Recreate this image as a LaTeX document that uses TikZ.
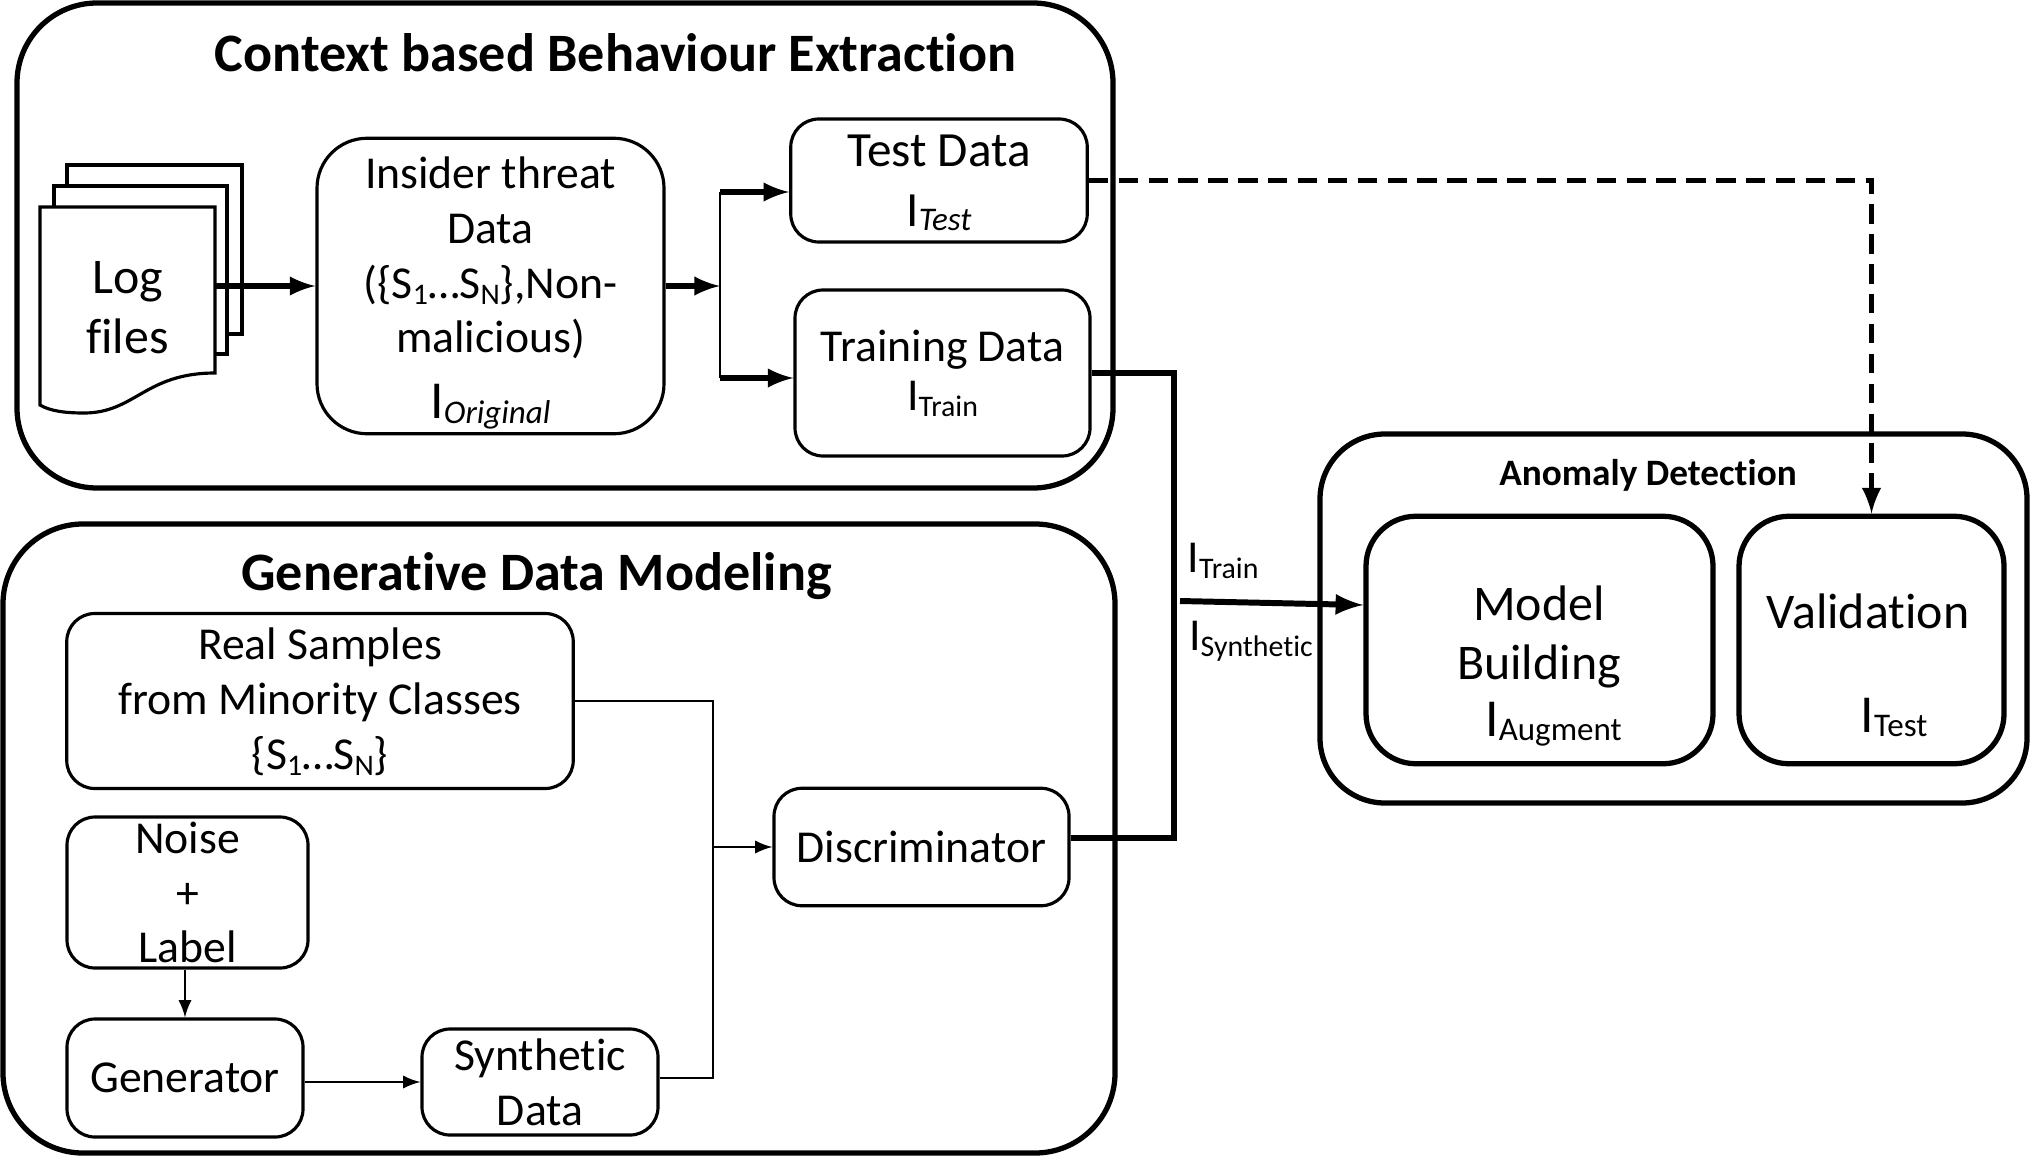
\documentclass[tikz,border=0pt]{standalone}
\usepackage{fontspec}
\setmainfont[Ligatures=NoCommon]{Carlito}
\newcommand{\lowtag}[1]{\raisebox{-1.8pt}[\height][0pt]{\fontsize{8.5}{10}\selectfont #1}}
\newcommand{\lowtagbig}[1]{\raisebox{-1.2pt}[\height][0pt]{\fontsize{9.4}{11}\selectfont #1}}
\newcommand{\bigI}{{\fontsize{15.2}{15.6}\selectfont I}}
\newcommand{\dropline}[1]{\raisebox{-3.2pt}[\height][2.2pt]{#1}}
\begin{document}
\begin{tikzpicture}[>=latex,
    every node/.style={font=\fontsize{13}{15.6}\selectfont, align=center, inner sep=0pt},
    group/.style={draw, line width=1.5pt, rounded corners=0.8cm},
    stage/.style={draw, line width=0.9pt, rounded corners=0.28cm},
    stagebig/.style={draw, line width=1.5pt, rounded corners=0.5cm},
    sheet/.style={draw, line width=0.9pt, fill=white},
    title/.style={font=\fontsize{15.4}{18}\selectfont\bfseries},
    bigtext/.style={font=\fontsize{14.2}{16.9}\selectfont},
    tagtext/.style={font=\fontsize{15.2}{18}\selectfont},
    thin line/.style={line width=0.7pt},
    bold line/.style={line width=1.5pt}]
    \useasboundingbox (0,0) rectangle (20.3,11.65);
    % groups
    \node[group, minimum width=10.96cm, minimum height=4.85cm] (context) at (5.65,9.195) {};
    \node[group, minimum width=11.12cm, minimum height=6.29cm] (generative) at (5.59,3.265) {};
    \node[group, rounded corners=0.65cm, minimum width=7.07cm, minimum height=3.69cm] (anomaly) at (16.735,5.465) {};
    \node[title] (contexttitle) at (6.156,11.12) {Context based Behaviour Extraction};
    \node[title] (generativetitle) at (5.366,5.89) {Generative Data Modeling};
    \node[font=\fontsize{10.6}{13}\selectfont\bfseries] (anomalytitle) at (16.48,6.90) {Anomaly Detection};
    % log files
    \node[sheet, minimum width=1.75cm, minimum height=1.69cm] (sheetc) at (1.545,9.155) {};
    \node[sheet, minimum width=1.73cm, minimum height=1.68cm] (sheetb) at (1.405,8.95) {};
    \draw[line width=0.9pt, fill=white] (0.40,9.58) -- (2.15,9.58) -- (2.15,7.92)
        .. controls (1.45,7.92) and (1.35,7.52) .. (0.84,7.52)
        .. controls (0.65,7.52) and (0.50,7.54) .. (0.40,7.60) -- cycle;
    \node[font=\fontsize{14.2}{15.6}\selectfont, minimum width=1.75cm] (logs) at (1.275,8.57) {Log\\[1.5pt]files};
    % first block
    \node[stage, rounded corners=0.5cm, minimum width=3.47cm, minimum height=2.955cm] (orig) at (4.905,8.79)
        {Insider threat\\Data\\(\{S\lowtag{1}…S\lowtag{N}\},Non-\\malicious)\\\dropline{\bigI\lowtagbig{\textit{Original}}}};
    \node[stage, font=\fontsize{14}{17}\selectfont, minimum width=2.965cm, minimum height=1.23cm] (test) at (9.39,9.845)
        {Test Data\\I\lowtagbig{\textit{Test}}};
    \node[stage, text depth=1.5pt, minimum width=2.95cm, minimum height=1.66cm] (train) at (9.425,7.92)
        {Training Data\\[-1.85pt]I\lowtag{Train}};
    \coordinate (split) at (7.2,8.79);
    \coordinate (splita) at (7.2,9.73);
    \coordinate (splitb) at (7.2,7.87);
    \draw[->, bold line] (logs.east |- orig.west) -- (orig.west);
    \draw[->, bold line] (orig.east) -- (split);
    \draw[thin line] (splita) -- (splitb);
    \draw[->, bold line] (splita) -- (test.west |- splita);
    \draw[->, bold line] (splitb) -- (train.west |- splitb);
    % second block
    \node[stage, text depth=1.5pt, minimum width=5.065cm, minimum height=1.75cm] (real) at (3.20,4.64)
        {Real Samples\\from Minority Classes\\\{S\lowtag{1}…S\lowtag{N}\}};
    \node[stage, inner ysep=-2pt, minimum width=2.41cm, minimum height=1.51cm] (noise) at (1.875,2.725)
        {Noise\\+\\Label};
    \node[stage, minimum width=2.36cm, minimum height=1.18cm] (gen) at (1.85,0.87) {Generator};
    \node[stage, minimum width=2.36cm, minimum height=1.06cm] (synth) at (5.40,0.83) {Synthetic\\Data};
    \node[stage, minimum width=2.95cm, minimum height=1.175cm] (disc) at (9.215,3.18) {Discriminator};
    \coordinate (mergeb) at (7.13,0.87);
    \coordinate (mergea) at (real.east -| mergeb);
    \draw[->, thin line] (gen.north |- noise.south) -- (gen.north);
    \draw[->, thin line] (gen.east |- synth.west) -- (synth.west);
    \draw[thin line] (real.east) -- (mergea) -- (mergeb) -- (synth.east |- mergeb);
    \draw[->, thin line] (mergeb |- disc.west) -- (disc.west);
    % third block
    \node[stagebig, minimum width=3.47cm, minimum height=2.475cm] (model) at (15.395,5.25) {};
    \node[stagebig, minimum width=2.65cm, minimum height=2.475cm] (val) at (18.715,5.25) {};
    \node[bigtext] (modeltext) at (15.39,5.28) {Model\\Building};
    \node[tagtext] (modeltag) at (15.535,4.46) {I\lowtagbig{Augment}};
    \node[bigtext] (valtext) at (18.68,5.54) {Validation};
    \node[tagtext] (valtag) at (18.94,4.495) {I\lowtagbig{Test}};
    % connections between blocks
    \coordinate (bustop) at (11.74,7.92);
    \coordinate (busbot) at (11.74,3.27);
    \coordinate (busmid) at (11.8,5.64);
    \draw[line width=1.7pt] (train.east) -- (bustop) -- (busbot) -- (disc.east |- busbot);
    \draw[->, line width=1.7pt] (busmid) -- ([yshift=0.35cm]model.west);
    \draw[->, line width=1.5pt, dash pattern=on 5.5pt off 3pt] (test.east) -| (val.north);
    \node (itrain) at (12.23,6.07) {I\lowtag{Train}};
    \node (isynth) at (12.51,5.29) {I\lowtag{Synthetic}};
\end{tikzpicture}
\end{document}
